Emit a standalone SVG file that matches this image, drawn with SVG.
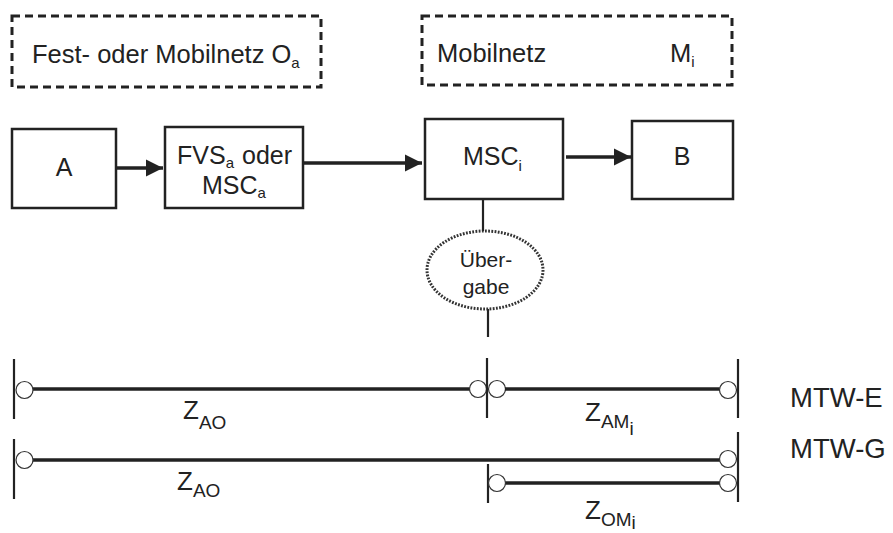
<svg xmlns="http://www.w3.org/2000/svg" width="893" height="533" viewBox="0 0 893 533">
<defs>
<style>
text{font-family:"Liberation Sans",Arial,sans-serif;fill:#222}
.t{font-size:25px}
.h{font-size:25.5px}
.s{font-size:15px}
.z{font-size:26px}
.zs{font-size:19px}
.m{font-size:27.5px}
.box{fill:#fff;stroke:#222;stroke-width:2.5}
.dash{fill:none;stroke:#222;stroke-width:3;stroke-dasharray:8 5}
.ln{stroke:#222;stroke-width:3.5;fill:none}
.bar{stroke:#222;stroke-width:2.2;fill:none}
.c{fill:#fff;stroke:#333;stroke-width:1.2}
</style>
<marker id="ah" viewBox="0 0 10 10" refX="10" refY="5" markerWidth="5" markerHeight="5" orient="auto" markerUnits="strokeWidth">
<path d="M0,0 L10,5 L0,10 z" fill="#222"/>
</marker>
</defs>
<rect width="893" height="533" fill="#fff"/>

<g id="netz-oa">
<rect class="dash" x="12" y="16" width="309" height="71"/>
<text class="h" x="32" y="63">Fest- oder Mobilnetz O<tspan class="s" dy="5">a</tspan></text>
</g>
<g id="netz-mi">
<rect class="dash" x="422" y="16" width="310" height="69"/>
<text class="h" x="437" y="62">Mobilnetz</text>
<text class="h" x="670" y="62">M<tspan class="s" dy="5">i</tspan></text>
</g>

<g id="node-a">
<rect class="box" x="12" y="129" width="104" height="79"/>
<text class="t" x="64" y="176" text-anchor="middle">A</text>
</g>
<g id="node-fvs">
<rect class="box" x="165" y="127" width="138" height="81"/>
<text class="t" x="177" y="164">FVS<tspan class="s" dy="4">a</tspan></text>
<text class="t" x="242" y="164">oder</text>
<text class="t" x="202" y="194">MSC<tspan class="s" dy="4">a</tspan></text>
</g>
<g id="node-msc">
<rect class="box" x="425" y="119" width="138" height="80"/>
<text class="t" x="463" y="165">MSC<tspan class="s" dy="6">i</tspan></text>
</g>
<g id="node-b">
<rect class="box" x="632" y="121" width="101" height="78"/>
<text class="t" x="682" y="165" text-anchor="middle">B</text>
</g>
<g id="node-uebergabe">
<ellipse cx="485" cy="270" rx="58" ry="39" fill="#fff" stroke="#333" stroke-width="3" stroke-dasharray="1.8 1.4"/>
<text x="486" y="267" font-size="21" text-anchor="middle">Über-</text>
<text x="486" y="294" font-size="21" text-anchor="middle">gabe</text>
</g>

<g id="connectors">
<line x1="116" y1="168" x2="163" y2="168" class="ln" marker-end="url(#ah)"/>
<line x1="303" y1="163" x2="422" y2="163" class="ln" stroke-width="3" marker-end="url(#ah)"/>
<line x1="566" y1="157" x2="631" y2="157" class="ln" marker-end="url(#ah)"/>
<line x1="483" y1="199" x2="483" y2="231" class="bar" stroke-width="2.5"/>
<line x1="488" y1="309" x2="488" y2="337" class="bar" stroke-width="2.5"/>
</g>

<g id="row-mtw-e">
<line class="bar" x1="14" y1="359" x2="14" y2="419"/>
<line class="ln" x1="30" y1="389" x2="471" y2="389"/>
<circle class="c" cx="24.5" cy="390" r="8.5"/>
<circle class="c" cx="478" cy="389" r="8.5"/>
<line class="bar" x1="487" y1="358" x2="487" y2="418"/>
<circle class="c" cx="497" cy="389" r="8.5"/>
<line class="ln" x1="505" y1="389" x2="720" y2="389"/>
<circle class="c" cx="728" cy="390" r="8.5"/>
<line class="bar" x1="738" y1="359" x2="738" y2="418"/>
<text class="z" x="183" y="419">Z<tspan class="zs" dy="10">AO</tspan></text>
<text class="z" x="585" y="421">Z<tspan class="zs" dy="7">AM</tspan><tspan class="zs" dy="7">i</tspan></text>
<text class="m" x="790" y="407">MTW-E</text>
</g>

<g id="row-mtw-g">
<line class="bar" x1="14" y1="439" x2="14" y2="499"/>
<line class="ln" x1="30" y1="460" x2="720" y2="460"/>
<circle class="c" cx="24.5" cy="460" r="8.5"/>
<circle class="c" cx="728" cy="459" r="8.5"/>
<line class="bar" x1="488" y1="464" x2="488" y2="503"/>
<line class="ln" x1="505" y1="483" x2="720" y2="483"/>
<circle class="c" cx="497" cy="483" r="8.5"/>
<circle class="c" cx="728" cy="483" r="8.5"/>
<line class="bar" x1="738" y1="432" x2="738" y2="502"/>
<text class="z" x="177" y="490">Z<tspan class="zs" dy="7">AO</tspan></text>
<text class="z" x="585" y="519">Z<tspan class="zs" dy="7">OM</tspan><tspan class="zs" dy="3">i</tspan></text>
<text class="m" x="790" y="458">MTW-G</text>
</g>
</svg>
